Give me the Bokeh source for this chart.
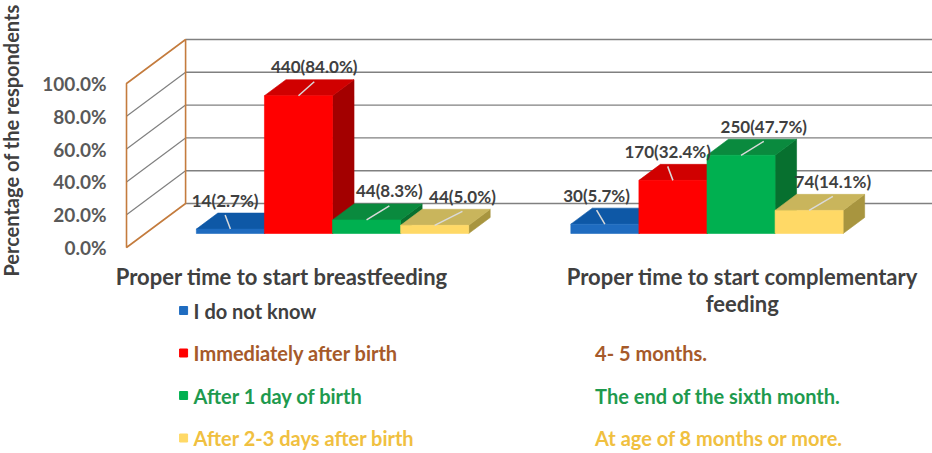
import math
from bokeh.plotting import figure
from bokeh.layouts import row
from bokeh.models import Range1d, FixedTicker, PrintfTickFormatter, ColumnDataSource
from bokeh.core.properties import value
from bokeh.embed import file_html
from bokeh.resources import INLINE

# ---------------- data ----------------
categories = ["Proper time to start breastfeeding",
              "Proper time to start complementary\nfeeding"]
responses_breastfeeding = ["I do not know", "Immediately after birth",
                           "After 1 day of birth", "After 2-3 days after birth"]
responses_complementary = ["I do not know", "4- 5 months.",
                           "The end of the sixth month.", "At age of 8 months or more."]
breastfeeding_counts = [14, 440, 44, 44]
breastfeeding_pct = [2.7, 84.0, 8.3, 5.0]
complementary_counts = [30, 170, 250, 74]
complementary_pct = [5.7, 32.4, 47.7, 14.1]
y_ticks = [0, 20, 40, 60, 80, 100]
y_axis_title = "Percentage of the respondents"

# ---------------- styles ----------------
FONT = value("Lato")
FRONT = ["#1F6CC0", "#FF0000", "#00B050", "#FFD966"]
TOP = ["#0E58A6", "#D00000", "#0A8A3E", "#C9B55C"]
SIDE = ["#0A4583", "#A30000", "#07702F", "#A8953F"]
TEXT_COL = ["#404040", "#A65A2A", "#1E9A4E", "#F0C040"]
WALL_COL = "#C47C3E"
GRID_COL = "#808080"

# ---------------- geometry (pixels -> data) ----------------
W, H = 932, 453
SIDE_W = 39             # strip holding the y-axis title
FRAME_PIC = 115         # expected frame left (page px)
WALL_X = 127            # page px of the front wall edge (data x = 0)
PX_CAT = 374.0          # px per category unit
PX_PCT = 1.64           # px per percent
Y0 = 247                # page px of 0 % on the front plane
X_MIN = -(WALL_X - FRAME_PIC) / PX_CAT
X_MAX = (W - WALL_X) / PX_CAT
Y_TOP = Y0 / PX_PCT
Y_BOT = -(H - Y0) / PX_PCT
DX = 59 / PX_CAT        # full wall depth, x
DY = 44 / PX_PCT        # full wall depth, y
ZF, ZB = 0.318, 0.682   # bar depth slab
BAR_W = 1 / 5.5         # 4 bars + 150 % gap
LABEL_NUDGE = [-16, 5, 12, 17, -19, -16, 12, 13]
CAT_NUDGE = [-32, 54]


def sx(px):
    return (px - WALL_X) / PX_CAT


def sy(py):
    return (Y0 - py) / PX_PCT


def proj(x, y, z):
    return x + z * DX, y + z * DY


def bare(fig):
    fig.outline_line_color = None
    fig.xgrid.visible = False
    fig.ygrid.visible = False
    fig.background_fill_color = "white"


# ---------------- y-axis title strip ----------------
side = figure(width=SIDE_W, height=H, output_backend="svg", toolbar_location=None,
              x_range=Range1d(0, SIDE_W), y_range=Range1d(Y_BOT, Y_TOP),
              x_axis_location=None, y_axis_location=None, title=None, min_border=0)
bare(side)
side.text(x=[10], y=[sy(140)], text=[y_axis_title], angle=math.pi / 2,
          text_font=FONT, text_font_style="bold", text_font_size="20px",
          text_color="#404040", text_align="center", text_baseline="middle")

# ---------------- main chart ----------------
p = figure(width=W - SIDE_W, height=H, output_backend="svg", toolbar_location=None,
           x_range=Range1d(X_MIN, X_MAX), y_range=Range1d(Y_BOT, Y_TOP),
           x_axis_location=None, title=None, min_border=0)
bare(p)

ax = p.yaxis[0]
ax.ticker = FixedTicker(ticks=y_ticks)
ax.formatter = PrintfTickFormatter(format="%.1f%%")
ax.axis_line_color = None
ax.major_tick_line_color = None
ax.minor_tick_line_color = None
ax.major_tick_out = 0
ax.major_tick_in = 0
ax.minor_tick_out = 0
ax.minor_tick_in = 0
ax.major_label_standoff = 8
ax.major_label_text_font = "Lato"
ax.major_label_text_font_style = "bold"
ax.major_label_text_font_size = "19px"
ax.major_label_text_color = "#595959"

# walls
p.multi_line(xs=[[DX, X_MAX] for t in y_ticks], ys=[[t + DY, t + DY] for t in y_ticks],
             line_color=GRID_COL, line_width=1.4)
p.multi_line(xs=[[0, DX] for t in y_ticks[1:-1]], ys=[[t, t + DY] for t in y_ticks[1:-1]],
             line_color=GRID_COL, line_width=1.2)
p.patch(x=[0, 0, DX, DX], y=[0, y_ticks[-1], y_ticks[-1] + DY, DY],
        fill_color=None, line_color=WALL_COL, line_width=1.6)

# bars
xs, ys, fills = [], [], []
lab_x, lab_y, lab_t, lead_x, lead_y = [], [], [], [], []
groups = [(breastfeeding_counts, breastfeeding_pct), (complementary_counts, complementary_pct)]
k = 0
for g, (cnts, pcts) in enumerate(groups):
    for i, (c, v) in enumerate(zip(cnts, pcts)):
        x0 = g + 0.5 - 2 * BAR_W + i * BAR_W
        x1 = x0 + BAR_W
        faces = [
            ([proj(x1, 0, ZF), proj(x1, v, ZF), proj(x1, v, ZB), proj(x1, 0, ZB)], SIDE[i]),
            ([proj(x0, v, ZF), proj(x1, v, ZF), proj(x1, v, ZB), proj(x0, v, ZB)], TOP[i]),
            ([proj(x0, 0, ZF), proj(x1, 0, ZF), proj(x1, v, ZF), proj(x0, v, ZF)], FRONT[i]),
        ]
        for pts, col in faces:
            xs.append([q[0] for q in pts])
            ys.append([q[1] for q in pts])
            fills.append(col)
        fcx, fty = proj((x0 + x1) / 2, v, ZF)
        lx = fcx + ((ZB - ZF) / 2 * 59 + LABEL_NUDGE[k]) / PX_CAT
        ly = fty + 29 / PX_PCT
        lab_x.append(lx)
        lab_y.append(ly)
        lab_t.append(f"{c}({v:.1f}%)")
        lead_x.append([lx, fcx])
        lead_y.append([ly - 15 / PX_PCT, fty])
        k += 1

p.patches(xs="xs", ys="ys", fill_color="c", line_color="c", line_width=0.6,
          source=ColumnDataSource(dict(xs=xs, ys=ys, c=fills)))
p.multi_line(xs=lead_x, ys=lead_y, line_color="#DADADA", line_width=1.5)
p.text(x=lab_x, y=lab_y, text=lab_t, text_font=FONT, text_font_style="bold",
       text_font_size="17px", text_color="#404040", text_align="center",
       text_baseline="middle")

# category labels
p.text(x=[g + 0.5 + CAT_NUDGE[g] / PX_CAT for g in range(len(categories))],
       y=[sy(262)] * len(categories), text=categories, text_font=FONT,
       text_font_style="bold", text_font_size="22px", text_color="#404040",
       text_align="center", text_baseline="top", text_line_height=1.0)

# legend
rows = [sy(310 + 42.5 * r) for r in range(4)]
p.scatter(x=[sx(184)] * 4, y=rows, marker="square", size=8,
          fill_color=FRONT, line_color=FRONT)
p.text(x=[sx(194)] * 4, y=rows, text=responses_breastfeeding, text_font=FONT,
       text_font_style="bold", text_font_size="20px", text_color=TEXT_COL,
       text_align="left", text_baseline="middle")
p.text(x=[sx(595)] * 3, y=rows[1:], text=responses_complementary[1:], text_font=FONT,
       text_font_style="bold", text_font_size="20px", text_color=TEXT_COL[1:],
       text_align="left", text_baseline="middle")

open("out.html", "w").write(file_html(row(side, p), INLINE))
